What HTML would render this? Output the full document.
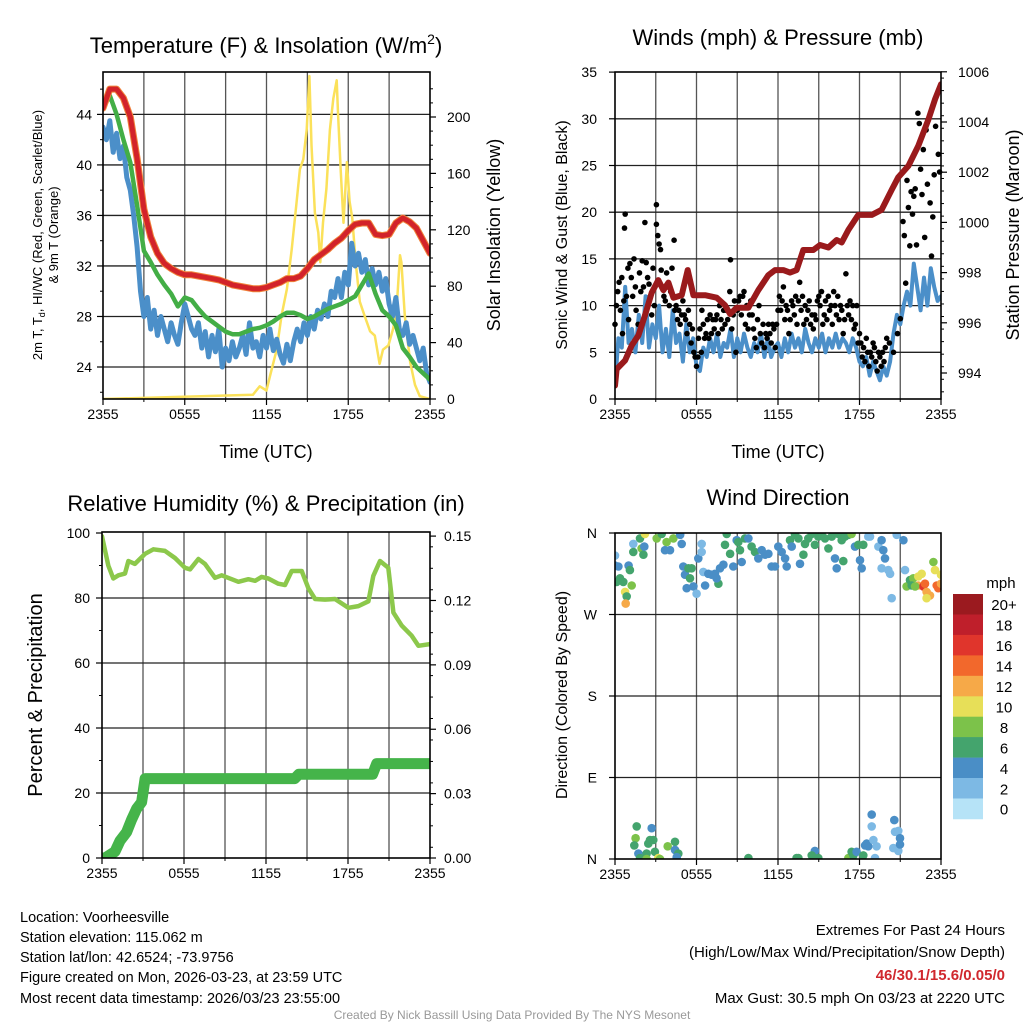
<!DOCTYPE html>
<html><head><meta charset="utf-8">
<style>
html,body{margin:0;padding:0;background:#fff;}
svg{display:block;font-family:"Liberation Sans",Arial,sans-serif;}
</style></head>
<body>
<svg id="chart" width="1024" height="1024" viewBox="0 0 1024 1024" xmlns="http://www.w3.org/2000/svg">
<defs>
<clipPath id="cT"><rect x="103" y="72" width="327" height="327"/></clipPath>
<clipPath id="cW"><rect x="615" y="72" width="326" height="327"/></clipPath>
<clipPath id="cR"><rect x="102" y="532" width="328" height="326"/></clipPath>
<clipPath id="cD"><rect x="615" y="533" width="326" height="326"/></clipPath>
</defs>
<text x="266" y="53" font-size="22" text-anchor="middle">Temperature (F) &amp; Insolation (W/m<tspan font-size="14" dy="-9">2</tspan><tspan dy="9">)</tspan></text>
<text x="778" y="45" font-size="22" text-anchor="middle">Winds (mph) &amp; Pressure (mb)</text>
<text x="266" y="511" font-size="22" text-anchor="middle">Relative Humidity (%) &amp; Precipitation (in)</text>
<text x="778" y="505" font-size="22" text-anchor="middle">Wind Direction</text>

<text x="266" y="458" font-size="18" text-anchor="middle">Time (UTC)</text>
<text x="778" y="458" font-size="18" text-anchor="middle">Time (UTC)</text>
<text transform="translate(42,235) rotate(-90)" font-size="13" text-anchor="middle">2m T, T<tspan font-size="9" dy="3">d</tspan><tspan dy="-3">, HI/WC (Red, Green, Scarlet/Blue)</tspan></text>
<text transform="translate(58,235) rotate(-90)" font-size="13" text-anchor="middle">&amp; 9m T (Orange)</text>
<text transform="translate(500,235) rotate(-90)" font-size="18" text-anchor="middle">Solar Insolation (Yellow)</text>
<text transform="translate(567,235) rotate(-90)" font-size="16" text-anchor="middle">Sonic Wind &amp; Gust (Blue, Black)</text>
<text transform="translate(1019,235) rotate(-90)" font-size="18" text-anchor="middle">Station Pressure (Maroon)</text>
<text transform="translate(42,695) rotate(-90)" font-size="20" text-anchor="middle">Percent &amp; Precipitation</text>
<text transform="translate(567,695) rotate(-90)" font-size="16" text-anchor="middle">Direction (Colored By Speed)</text>

<g font-size="14.5">
<text x="20" y="922">Location: Voorheesville</text>
<text x="20" y="942">Station elevation: 115.062 m</text>
<text x="20" y="962">Station lat/lon: 42.6524; -73.9756</text>
<text x="20" y="982">Figure created on Mon, 2026-03-23, at 23:59 UTC</text>
<text x="20" y="1003">Most recent data timestamp: 2026/03/23 23:55:00</text>
</g>
<g font-size="15" text-anchor="end">
<text x="1005" y="935">Extremes For Past 24 Hours</text>
<text x="1005" y="957">(High/Low/Max Wind/Precipitation/Snow Depth)</text>
<text x="1005" y="980" fill="#d0282e" font-weight="bold">46/30.1/15.6/0.05/0</text>
<text x="1005" y="1003">Max Gust: 30.5 mph On 03/23 at 2220 UTC</text>
</g>
<text x="512" y="1019" font-size="12" fill="#999" text-anchor="middle">Created By Nick Bassill Using Data Provided By The NYS Mesonet</text>

<g id="layer"></g>
</svg>
<script>
// ===== Temperature panel data =====
const tempHours = [0,0.5,1,1.5,2,2.5,3,3.5,4,4.5,5,5.5,6,6.5,7,7.5,8,8.5,9,9.5,10,10.5,11,11.5,12,12.5,13,13.5,14,14.5,15,15.5,16,16.5,17,17.5,18,18.5,19,19.5,20,20.5,21,21.5,22,22.5,23,23.5,24];
const tempRed = [44.5,46,46,45.3,43.8,40.5,36.5,34.3,33,32.2,31.8,31.5,31.3,31.3,31.2,31.1,31,30.9,30.7,30.5,30.4,30.3,30.2,30.2,30.3,30.5,30.7,31,31,31.2,31.8,32.5,32.9,33.3,33.8,34.2,34.8,35.3,35.4,35.4,34.5,34.4,34.5,35.4,35.8,35.5,35,34,33];
const tempGreen = [44.5,45.5,44,42,40.2,36.8,33.2,32.3,31.3,30.5,29.8,28.8,29.5,29.3,28.6,28,27.6,27.2,26.8,26.6,26.6,26.8,27,27.1,27.3,27.6,28,28.3,28.3,28.1,27.8,28,28.3,28.6,28.8,29,29.3,29.6,30.5,31.4,29.8,28.5,28,27.3,25.5,24.8,24,23.5,23];
const tdHours = [0,0.25,0.5,0.75,1,1.25,1.5,1.75,2,2.25,2.5,2.75,3,3.25,3.5,3.75,4,4.25,4.5,4.75,5,5.25,5.5,5.75,6,6.25,6.5,6.75,7,7.25,7.5,7.75,8,8.25,8.5,8.75,9,9.25,9.5,9.75,10,10.25,10.5,10.75,11,11.25,11.5,11.75,12,12.25,12.5,12.75,13,13.25,13.5,13.75,14,14.25,14.5,14.75,15,15.25,15.5,15.75,16,16.25,16.5,16.75,17,17.25,17.5,17.75,18,18.25,18.5,18.75,19,19.25,19.5,19.75,20,20.25,20.5,20.75,21,21.25,21.5,21.75,22,22.25,22.5,22.75,23,23.25,23.5,23.75,24];
const tempBlue = [43,42,43.5,41,42.5,40.5,41.5,39,38,36,33.5,30,28,29.5,27,28.5,26.5,28,27,26,27.5,26.5,25.8,27.5,29,28,27,26.5,27.5,25.5,26.8,24.8,26.5,25.2,27,24,25.5,24.5,26,24.8,25.5,26.5,25,27.5,25.5,26,24.8,26.5,25.5,27,25.3,26.2,25,24.3,25.8,24.5,26,27,26,27.5,26.5,28,27,28.5,27.8,29,28,30,29.5,31,29.5,31.5,30.5,33.8,32,33,31.5,32.5,30.5,31.8,30.5,31.5,30,31,29,28,29.5,27,26.5,27.5,25.8,26.5,25.5,24.5,25.5,23.5,22.8];
const solarHours = [0,11,11.5,12,12.25,12.75,13.1,13.5,13.85,14.2,14.45,14.7,14.95,15.15,15.3,15.55,15.8,15.95,16.15,16.4,16.65,16.9,17.15,17.25,17.45,17.65,17.9,18.1,18.3,18.55,18.85,19.2,19.6,19.95,20.3,20.55,20.95,21.3,21.55,21.8,21.9,22.15,22.55,22.9,23.25,24];
const solarVals = [0,3,9,6,16,35,59,78,106,139,163,170,191,229,180,132,118,97,125,149,191,213,226,203,161,125,168,140,128,97,69,59,48,45,25,35,38,50,64,102,97,59,26,10,2,0];
const tempTicks = [24,28,32,36,40,44];
const solarTicks = [0,40,80,120,160,200];
const timeTicks = ["2355","0555","1155","1755","2355"];

// ===== Wind panel data =====
const presHours = [0,0.12,0.74,1.23,1.72,2.21,2.7,3.19,3.56,3.93,4.3,4.91,5.35,5.77,6.63,7.49,8.1,8.47,8.96,9.82,10.55,11.29,11.78,12.39,12.88,13.37,13.86,14.6,15.09,15.71,16.32,16.69,17.18,17.91,18.9,19.63,20.37,20.86,21.6,22.33,23.07,23.56,24];
const presVals = [993.5,994.15,994.5,995.1,995.5,996.3,997.2,997.7,997.3,997.6,997,997.1,998.1,997.1,997.1,997,996.7,996.35,996.6,996.6,997.3,997.9,998.1,998.1,998,998.1,998.9,998.9,999.1,999,999.3,999.2,999.7,1000.3,1000.3,1000.5,1001.3,1001.8,1002.25,1003.05,1004.1,1004.9,1005.5];
const windVals = [1.5,6.5,5.5,12,6,7.5,5,9,6,11,5.5,8,6.5,10,5,7.5,4.5,9.5,6,7,4,8,5,6.5,3.5,3,5.5,4.5,6.5,5,7,4.5,6,5.5,7.5,4.5,6.5,5,7,5.5,4.5,6,5,7,4.5,6.5,4.5,5.5,6,4.5,6.5,5,7,5.5,6.5,5,7.5,6,5,6.5,5.5,7,5,6.5,5.5,7,5.5,6.5,6,5,6.5,5.5,4,3.5,4.5,2.5,4,3,2,3.5,2.5,4,7,9,8,10,11.5,10,14.5,12,9.5,13,10,14,12,10.5,11];
const gustHours = [0,0.1,0.2,0.3,0.4,0.5,0.55,0.65,0.75,0.7,0.85,0.95,1,1.1,1.2,1.3,1.4,1.5,1.55,1.7,1.8,1.9,2,2.1,2.2,2.3,2.4,2.5,2.6,2.7,2.8,2.9,3.05,3.05,3.1,3.15,3.25,3.35,3.4,3.5,3.6,3.7,3.8,3.9,4,4.1,4.2,4.35,4.4,4.5,4.6,4.7,4.8,4.9,5,5.1,5.2,5.3,5.4,5.5,5.6,5.7,5.8,5.9,6,6.1,6.15,6.25,6.35,6.4,6.5,6.6,6.7,6.8,6.9,7,7.1,7.2,7.3,7.4,7.5,7.6,7.7,7.8,7.9,8,8.1,8.2,8.3,8.45,8.5,8.6,8.7,8.8,8.9,9,9.1,9.2,9.3,9.4,9.5,9.6,9.7,9.8,9.9,10,10.1,10.2,10.3,10.4,10.5,10.6,10.7,10.8,10.9,11,11.1,11.2,11.3,11.4,11.5,11.6,11.7,11.8,11.9,12,12.1,12.2,12.3,12.4,12.5,12.6,12.7,12.8,12.9,13,13.1,13.2,13.3,13.4,13.5,13.6,13.7,13.8,13.9,14,14.1,14.2,14.3,14.4,14.5,14.6,14.7,14.8,14.9,15,15.1,15.2,15.3,15.4,15.5,15.6,15.7,15.8,15.9,16,16.1,16.2,16.3,16.4,16.5,16.6,16.7,16.8,16.9,17,17.1,17.2,17.3,17.4,17.5,17.6,17.7,17.8,17.9,18,18.1,18.2,18.3,18.4,18.5,18.6,18.7,18.8,18.9,19,19.1,19.2,19.3,19.4,19.5,19.6,19.7,19.8,19.9,20,20.2,20.5,20.8,21,21.2,21.3,21.4,21.5,21.6,21.7,21.8,21.9,22,22.1,22.2,22.3,22.4,22.5,22.6,22.7,22.8,22.9,23,23.2,23.3,23.4,23.5,23.6,23.8,23.9];
const gustVals = [8,10,11.5,12.5,9.5,13,7,10.5,19.8,18.3,11,14,8.5,14.5,13,11,15,12,9.5,8,13.5,11.5,14.8,12,18.9,14.6,13,12.3,11,9,14,10,20.8,18.7,12.5,17.5,16.6,16,13.8,12,11,10.5,13.5,12,10,11.5,14,17,9.5,10,8.5,9.5,8,9,10.5,9,8.5,7,9.5,8,6,7.5,5,4.5,3.5,4.5,6.5,7.5,5,9.5,8,6.5,7,8.5,6.5,9,7,8.5,7.5,8.5,9,7,10,8.5,7.5,9.5,8,9.5,8.5,11.5,14.9,7.5,9,10.5,5,9.5,10.5,11,9,11,11.5,8,10,7.5,9,10.5,9,7.5,6.5,5.5,8.5,10,7,6,8,5.5,7,6.5,8,7,6,8,7.5,5.5,8,9.5,11,9.5,10.5,12,8.5,10,9.5,7,8.5,10.5,10,9,11,8,10.5,12.5,9.5,11,8,10,8.5,9.5,10.5,8,9,7.5,9,8.5,10.5,11,10,11.5,8,9,10.5,8.5,11,9.5,10,8,11.5,10,9,11,8.5,10,9.5,7,8.5,13.4,10,9,10.5,8.5,10,7.5,8,10,6,7,6,4.5,5.5,4,6.5,5,3.5,5,4.5,6,5.5,4,3,5,4.5,3.5,5,4,5.5,6.5,6,5,7,8.6,19,17.5,12.4,23.4,20.5,16.4,22.2,19.8,21.7,22.5,16.5,30.6,29.5,24.6,21.9,26.7,17.3,28.8,23,21,15.3,19.5,24,29.2,26.2,24.3];
const windTicks = [0,5,10,15,20,25,30,35];
const presTicks = [994,996,998,1000,1002,1004,1006];

// ===== Humidity panel data =====
const rhHours = [0,0.46,0.83,1.2,1.68,1.93,2.41,3.15,3.76,4.61,5.34,6.07,6.44,7.05,7.54,8.27,8.76,9.49,9.98,10.71,11.2,11.68,12.17,12.9,13.39,13.88,14.61,15.1,15.59,16.32,17.05,18.02,18.76,19.49,19.85,20.34,20.95,21.32,21.93,22.66,23.15,24];
const rhVals = [99,90,86,87,87.5,91.4,90.5,93.6,95,94.5,92.3,89.3,88.8,92,90.5,86.2,87,85.8,85,85.8,85.3,86.5,86,84.4,84,88.3,88.3,83,79.7,79.5,79.7,77,77.5,79,86.8,91.4,89.3,75.5,71.5,68.4,65.3,65.8];
const pcpHours = [0,0.22,0.95,1.32,1.8,2.17,2.54,2.9,3.15,14.1,14.4,19.8,20.1,24];
const pcpVals = [0,0,0.003,0.008,0.012,0.018,0.023,0.026,0.037,0.037,0.039,0.039,0.044,0.044];
const rhTicks = [0,20,40,60,80,100];
const pcpTicks = ["0.00","0.03","0.06","0.09","0.12","0.15"];

// ===== Wind direction data =====
const dirHours = [0,0,0.25,0.37,0.12,0.61,1,1.1,1.23,0.74,0.86,0.79,1.35,1.35,1.84,1.96,2.09,2.16,2.21,3.07,3.44,3.8,4.3,3.68,4.05,4.8,4.91,5.03,5.15,5.4,5.64,5.28,5.77,5.52,6.01,6.13,6.38,6.38,6.5,6.87,7.12,6.63,7.36,7.61,7.73,7.98,7.48,8.22,8.1,8.47,8.71,8.96,9.08,9.33,9.2,9.57,9.82,10.06,10.31,10.55,10.8,11.04,11.29,11.53,11.78,12.02,12.27,12.52,12.64,12.88,13.01,13.25,13.5,13.62,13.87,13.99,14.23,14.48,14.72,14.97,15.22,15.46,15.71,15.95,16.2,16.32,16.44,16.69,16.81,16.93,17.18,17.42,17.67,17.91,18.04,18.16,18.28,18.65,18.77,19.39,19.63,19.75,19.88,19.63,20.12,20.25,20.37,20.74,21.23,21.35,21.47,21.72,21.96,22.33,22.58,23.44,23.56,22.33,22.7,22.94,22.82,23.19,22.94,23.68,23.8,24,24,21.84,22.09,1.6,1.52,1.42,2.7,2.58,2.82,2.45,1.72,2.33,2.94,1.84,2.33,3.19,3.31,4.42,3.88,4.42,4.66,4.54,9.82,13.37,13.5,14.72,14.48,14.97,17.18,17.42,17.55,17.79,18.28,18.41,18.53,18.65,18.9,18.9,19.02,19.26,19.14,20.56,20.61,20.86,20.98,20.49,20.86,20.98];
const dirDegs = [335,324,323,310,306,306,324,319,302,295,290,282,348,339,354,343,336,345,359,354,359,350,354,341,341,358,348,323,314,321,321,299,301,310,293,332,339,348,317,315,314,302,315,304,321,325,310,359,347,337,323,352,350,328,341,354,354,345,339,332,341,336,337,323,323,345,339,332,323,352,345,358,354,326,336,348,354,359,347,356,358,354,343,356,332,321,359,352,329,356,358,359,345,347,330,321,347,356,356,345,352,341,332,321,319,315,288,358,352,319,301,308,310,312,315,328,319,302,301,295,304,291,288,302,299,314,304,302,301,36,23,15,34,21,21,17,6,6,8,1,0,1,0,19,14,10,6,2,1,1,1,9,4,1,1,8,4,8,4,15,17,14,49,36,21,14,1,43,30,31,23,12,9,16];
const dirSpeeds = [2,4,4,6,6,6,4,6,8,10,6,12,2,6,6,8,6,4,10,8,6,8,8,4,4,4,4,4,4,6,6,4,4,6,2,4,2,2,2,4,4,4,4,6,4,4,4,6,6,6,4,4,6,4,6,6,4,6,6,4,4,4,4,4,4,4,4,4,4,6,4,6,6,4,6,6,6,6,6,6,6,6,6,6,4,4,6,6,6,6,6,8,4,6,4,4,6,2,2,2,4,4,4,2,2,2,2,2,4,2,8,6,8,10,10,8,10,12,16,12,14,12,10,14,14,10,12,6,8,6,8,6,4,6,6,6,4,6,6,6,8,10,8,6,8,4,6,4,6,6,6,4,6,6,8,6,6,4,6,4,4,4,4,2,2,2,2,4,2,2,4,2,2,4];
const speedBins = ["0","2","4","6","8","10","12","14","16","18","20+"];
const speedColors = ["#b6e3f7","#7db9e4","#4a8ec6","#44a46d","#7cc24a","#e7df58","#f6a948","#f2682c","#e0352c","#bf1f2b","#9b1a1f"];
const dirTicks = ["N","E","S","W","N"];

// ===== scales =====
const xT = h => 103 + h / 24 * 327;
const yT = t => 367 - (t - 24) * 12.63;
const yI = v => 399 - v * 1.41;
const xW = h => 615 + h / 24 * 326;
const yW = m => 399 - m * 9.34;
const yP = p => 373 - (p - 994) * 25.1;
const xR = h => 102 + h / 24 * 328;
const yR = r => 858 - r * 3.25;
const yPc = p => 858 - p * 2146;
const yD = d => 859 - d / 360 * 326;

const NS = "http://www.w3.org/2000/svg";
const layer = document.getElementById("layer");
function mk(tag, attrs, parent) {
  const e = document.createElementNS(NS, tag);
  for (const k in attrs) e.setAttribute(k, attrs[k]);
  (parent || layer).appendChild(e);
  return e;
}
function group(name) {
  const g = mk("g", {});
  
  
  return g;
}
function line(g, x1, y1, x2, y2, w, c) { return mk("line", {x1, y1, x2, y2, stroke: c || "#000", "stroke-width": w}, g); }
function txt(g, x, y, s, anchor, size) { const t = mk("text", {x, y, "font-size": size || 14, "text-anchor": anchor}, g); t.textContent = s; return t; }

function panelFrame(name, x0, y0, w, h, hGridYs) {
  const g = group(name + "-grid");
  for (let i = 1; i < 8; i++) { const x = x0 + w * i / 8; line(g, x, y0, x, y0 + h, 1.3, "#555"); }
  hGridYs.forEach(y => line(g, x0, y, x0 + w, y, 1.3, "#222"));
  const ax = group(name + "-x-axis");
  timeTicks.forEach((s, i) => {
    const x = x0 + w * i / 4;
    line(ax, x, y0 + h, x, y0 + h + 6, 1.2);
    txt(ax, x, y0 + h + 20, s, "middle", 14);
  });
  for (let i = 1; i < 8; i += 2) { const x = x0 + w * i / 8; line(ax, x, y0 + h, x, y0 + h + 3, 1); }
}
function frameBox(name, x0, y0, w, h) {
  const r = mk("rect", {x: x0, y: y0, width: w, height: h, fill: "none", stroke: "#000", "stroke-width": 1.6});
  
  
}
function pathD(xs, ys, fx, fy) { return xs.map((h, i) => (i ? "L" : "M") + fx(h).toFixed(1) + " " + fy(ys[i]).toFixed(1)).join(" "); }
function series(name, clip, xs, ys, fx, fy, color, w, extra) {
  const p = mk("path", Object.assign({d: pathD(xs, ys, fx, fy), fill: "none", stroke: color, "stroke-width": w, "stroke-linejoin": "round", "stroke-linecap": "round", "clip-path": "url(#" + clip + ")"}, extra || {}));
  
  
  return p;
}

// ===== Temperature panel =====
panelFrame("temp", 103, 72, 327, 327, tempTicks.map(yT));
{
  const ly = group("temp-left-axis");
  tempTicks.forEach(t => { line(ly, 97, yT(t), 103, yT(t), 1.2); txt(ly, 92, yT(t) + 5, String(t), "end", 14); });
  [22, 26, 30, 34, 38, 42, 46].forEach(t => line(ly, 100, yT(t), 103, yT(t), 1));
  const ry = group("temp-right-axis");
  solarTicks.forEach(v => { line(ry, 430, yI(v), 436, yI(v), 1.2); txt(ry, 447, yI(v) + 5, String(v), "start", 14); });
  for (let v = 10; v < 230; v += 10) if (v % 40) line(ry, 430, yI(v), 433, yI(v), 1);
}
series("solar-insolation-line", "cT", solarHours, solarVals, xT, yI, "#fbe15a", 2.5);
series("dewpoint-line", "cT", tdHours, tempBlue, xT, yT, "#4b8fc9", 5);
series("heat-index-windchill-line", "cT", tempHours, tempGreen, xT, yT, "#43ae46", 4.5);
series("temp-9m-line", "cT", tempHours, tempRed, xT, yT, "#f0823a", 7);
series("temp-2m-line", "cT", tempHours, tempRed, xT, yT, "#d2232a", 5);
frameBox("temp", 103, 72, 327, 327);

// ===== Wind panel =====
panelFrame("wind", 615, 72, 326, 327, windTicks.filter(v => v > 0 && v < 35).map(yW));
{
  const ly = group("wind-left-axis");
  windTicks.forEach(v => { line(ly, 609, yW(v), 615, yW(v), 1.2); txt(ly, 597, yW(v) + 5, String(v), "end", 14); });
  const ry = group("pressure-right-axis");
  presTicks.forEach(p => { line(ry, 941, yP(p), 947, yP(p), 1.2); txt(ry, 958, yP(p) + 5, String(p), "start", 14); });
  for (let p = 993.25; p < 1006; p += 0.5) if (Math.abs(p % 2) > 0.01) line(ry, 941, yP(p), 944, yP(p), 1);
}
series("sustained-wind-line", "cW", tdHours, windVals, xW, yW, "#4b8fc9", 4);
{
  const g = group("gust-points");
  gustHours.forEach((h, i) => {
    const c = mk("circle", {cx: xW(h).toFixed(1), cy: yW(gustVals[i]).toFixed(1), r: 2.8, fill: "#000"}, g);
    
    
  });
}
series("pressure-line", "cW", presHours, presVals, xW, yP, "#9a1a1c", 6);
frameBox("wind", 615, 72, 326, 327);

// ===== Humidity panel =====
panelFrame("humidity", 102, 532, 328, 326, [20, 40, 60, 80].map(yR));
{
  const ly = group("humidity-left-axis");
  rhTicks.forEach(v => { line(ly, 96, yR(v), 102, yR(v), 1.2); txt(ly, 90, yR(v) + 5, String(v), "end", 14); });
  [10, 30, 50, 70, 90].forEach(v => line(ly, 99, yR(v), 102, yR(v), 1));
  const ry = group("precip-right-axis");
  pcpTicks.forEach(s => { const p = parseFloat(s); line(ry, 430, yPc(p), 436, yPc(p), 1.2); txt(ry, 444, yPc(p) + 5, s, "start", 14); });
  for (let p = 0.005; p < 0.152; p += 0.01) line(ry, 430, yPc(p), 433, yPc(p), 1);
}
series("humidity-line", "cR", rhHours, rhVals, xR, yR, "#8cc84b", 4.5);
series("precipitation-line", "cR", pcpHours, pcpVals, xR, yPc, "#45b44a", 11);
frameBox("humidity", 102, 532, 328, 326);

// ===== Wind direction panel =====
panelFrame("direction", 615, 533, 326, 326, [90, 180, 270].map(yD));
{
  const ly = group("direction-left-axis");
  dirTicks.forEach((s, i) => { const y = yD(i * 90); line(ly, 609, y, 615, y, 1.2); txt(ly, 597, y + 5, s, "end", 14); });
}
{
  const g = group("direction-points");
  const clip = mk("g", {"clip-path": "url(#cD)"}, g);
  dirHours.forEach((h, i) => {
    const bin = Math.min(10, Math.round(dirSpeeds[i] / 2));
    const c = mk("circle", {cx: xD(h).toFixed(1), cy: yD(dirDegs[i]).toFixed(1), r: 4.3, fill: speedColors[bin]}, clip);
    
    
  });
}
function xD(h) { return xW(h); }
frameBox("direction", 615, 533, 326, 326);
{
  const g = group("speed-colorbar");
  txt(g, 1001, 588, "mph", "middle", 15);
  const top = 594, bh = 20.45;
  speedBins.slice().reverse().forEach((s, j) => {
    const col = speedColors[10 - j];
    const r = mk("rect", {x: 953, y: (top + j * bh).toFixed(1), width: 30, height: bh + 0.3, fill: col}, g);
    
    
    txt(g, 1004, top + j * bh + bh / 2 + 6, s, "middle", 15);
  });
}
</script>
</body></html>
